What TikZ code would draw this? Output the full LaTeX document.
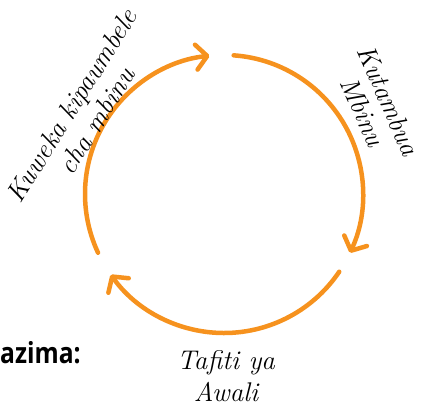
\documentclass[tikz,border=0pt]{standalone}
\usepackage{fontspec}
\newfontfamily\labelsans[FakeStretch=0.85]{Open Sans}
\usetikzlibrary{arrows.meta}
\definecolor{cycorange}{RGB}{246,146,30}
\begin{document}
\begin{tikzpicture}[x=1pt,y=1pt,
  cyc/.style={draw=cycorange, line width=4.5pt, line cap=round,
    -{Straight Barb[length=11pt,width=25pt,line cap=round,line join=round]}},
  lbl/.style={font=\itshape\fontsize{27}{31}\selectfont, align=center, inner sep=0pt}]
\useasboundingbox (0,0) rectangle (438,-408);
\coordinate (c) at (224,-194);
\draw[cyc] ([shift={(86:139)}]c) arc[start angle=86,end angle=-25,radius=139];
\draw[cyc] ([shift={(-34:139)}]c) arc[start angle=-34,end angle=-144.5,radius=139];
\draw[cyc] ([shift={(205:139)}]c) arc[start angle=205,end angle=96,radius=139];
\node[lbl, rotate=58, font=\itshape\fontsize{27}{29}\selectfont] (k) at (84,-113) {Kuweka kipaumbele\\cha mbinu};
\node[lbl, rotate=-66, font=\itshape\fontsize{27}{28}\selectfont] (t) at (376,-106) {Kutambua\\Mbinu};
\node[lbl, font=\itshape\fontsize{27}{32}\selectfont] (w) at (226,-376) {Tafiti ya\\Awali};
\node[font=\labelsans\bfseries\fontsize{29}{34}\selectfont, anchor=base west, inner sep=0pt] (a) at (0,-363) {azima:};
\end{tikzpicture}
\end{document}
